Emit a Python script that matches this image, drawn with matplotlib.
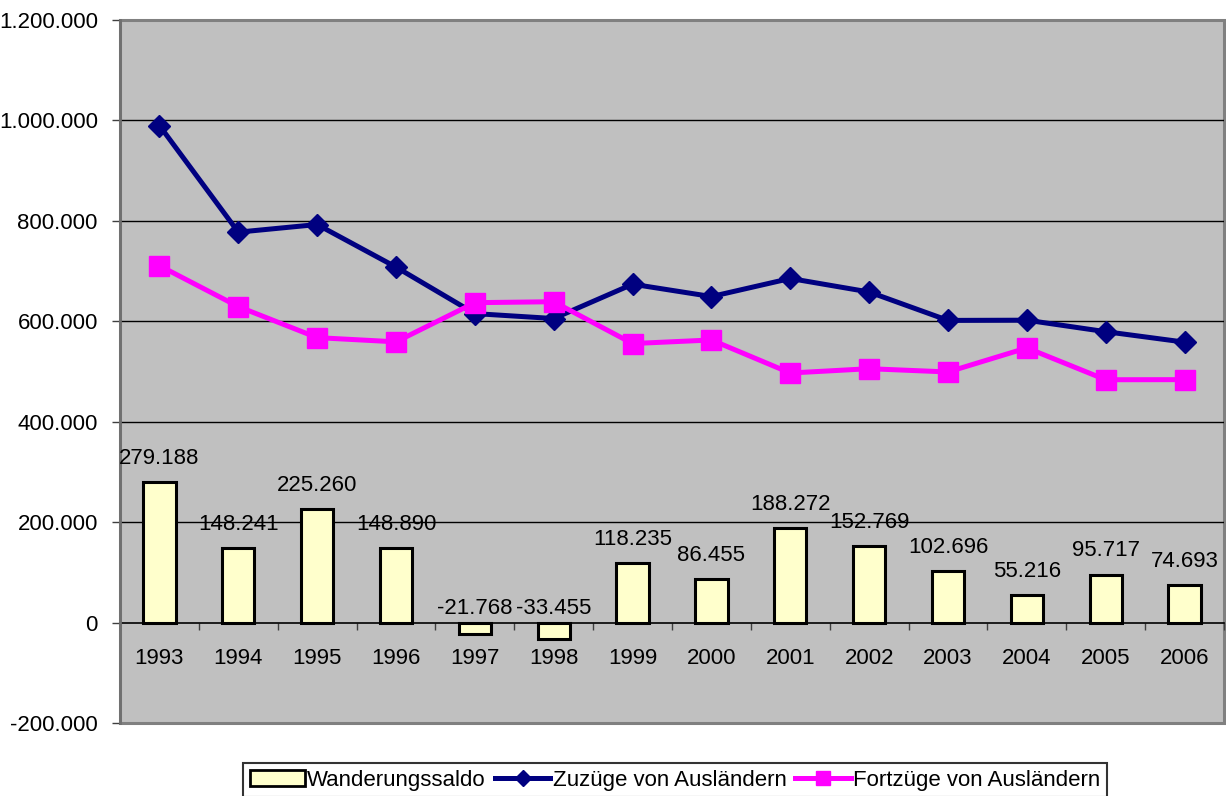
import matplotlib
matplotlib.use("Agg")
import matplotlib.pyplot as plt
from matplotlib.patches import Rectangle, Patch
from matplotlib.lines import Line2D
from matplotlib.ticker import FuncFormatter, FixedLocator

plt.rcParams['font.family'] = ['Liberation Sans', 'DejaVu Sans']

years = ['1993', '1994', '1995', '1996', '1997', '1998', '1999',
         '2000', '2001', '2002', '2003', '2004', '2005', '2006']
saldo = [279188, 148241, 225260, 148890, -21768, -33455, 118235,
         86455, 188272, 152769, 102696, 55216, 95717, 74693]
zuzuege = [989847, 777516, 792701, 707954, 615298, 605500, 673873,
           649249, 685259, 658341, 601759, 602182, 579301, 558467]
fortzuege = [710659, 629275, 567441, 559064, 637066, 638955, 555638,
             562794, 496987, 505572, 499063, 546966, 483584, 483774]
y_ticks = [-200000, 0, 200000, 400000, 600000, 800000, 1000000, 1200000]

FS = 16

def de_fmt(v, pos=None):
    s = f"{abs(int(round(v))):,}".replace(",", ".")
    return ("-" if v < 0 else "") + s

fig = plt.figure(figsize=(12.26, 7.96), dpi=100)
ax = fig.add_axes([120/1226, 73/796, 1104/1226, 703/796])
ax.set_facecolor('#C0C0C0')

x = list(range(len(years)))
ax.set_xlim(-0.5, len(years) - 0.5)
ax.set_ylim(-200000, 1200000)

# gridlines
for t in y_ticks[2:-1]:
    ax.axhline(t, color='black', linewidth=1.0, zorder=1)

ax.bar(x, saldo, width=0.41, color='#FFFFCC', edgecolor='black',
       linewidth=2.2, zorder=3)
ax.plot(x, zuzuege, color='#000080', linewidth=3.6, marker='D', markersize=11,
        markeredgecolor='#000080', zorder=4)
ax.plot(x, fortzuege, color='#FF00FF', linewidth=3.6, marker='s', markersize=14,
        markeredgecolor='#FF00FF', zorder=5)

for xi, v in zip(x, saldo):
    if v >= 0:
        ax.annotate(de_fmt(v), (xi, v), xytext=(0, 17), textcoords='offset points',
                    ha='center', va='center', fontsize=FS, zorder=6)
    else:
        ax.annotate(de_fmt(v), (xi, 0), xytext=(0, 10), textcoords='offset points',
                    ha='center', va='center', fontsize=FS, zorder=6)

# spines / axes
for s in ['top', 'right']:
    ax.spines[s].set_visible(False)
ax.spines['left'].set_color('#707070')
ax.spines['left'].set_linewidth(2)
ax.spines['bottom'].set_position(('data', 0))
ax.spines['bottom'].set_color('black')
ax.spines['bottom'].set_linewidth(1.2)
ax.spines['bottom'].set_zorder(2)

ax.add_patch(Rectangle((0, 0), 1, 1, transform=ax.transAxes, fill=False,
                       edgecolor='#808080', linewidth=2.2, zorder=0.5, clip_on=False))

ax.set_yticks(y_ticks)
ax.yaxis.set_major_formatter(FuncFormatter(de_fmt))
ax.tick_params(axis='y', direction='out', length=6, width=1, color='#404040',
               labelsize=FS, pad=10)

ax.set_xticks(x)
ax.set_xticklabels(years)
ax.xaxis.set_minor_locator(FixedLocator([i + 0.5 for i in range(-1, len(years))]))
ax.tick_params(axis='x', which='major', length=0, labelsize=FS, pad=18)
ax.tick_params(axis='x', which='minor', direction='out', length=5, width=1, color='#404040')

handles = [Patch(facecolor='#FFFFCC', edgecolor='black', linewidth=2),
           Line2D([], [], color='#000080', linewidth=3.6, marker='D', markersize=8),
           Line2D([], [], color='#FF00FF', linewidth=3.6, marker='s', markersize=10)]
labels = ['Wanderungssaldo', 'Zuzüge von Ausländern', 'Fortzüge von Ausländern']
leg = fig.legend(handles, labels, loc='upper center', bbox_to_anchor=(675/1226, 33/796),
                 ncol=3, fontsize=FS, frameon=True, fancybox=False, handlelength=2.5,
                 handletextpad=0.1, columnspacing=0.4, borderpad=0.3, borderaxespad=0)
leg.get_frame().set_edgecolor('black')
leg.get_frame().set_linewidth(1.5)

fig.savefig('out.png', dpi=100, facecolor='white')
